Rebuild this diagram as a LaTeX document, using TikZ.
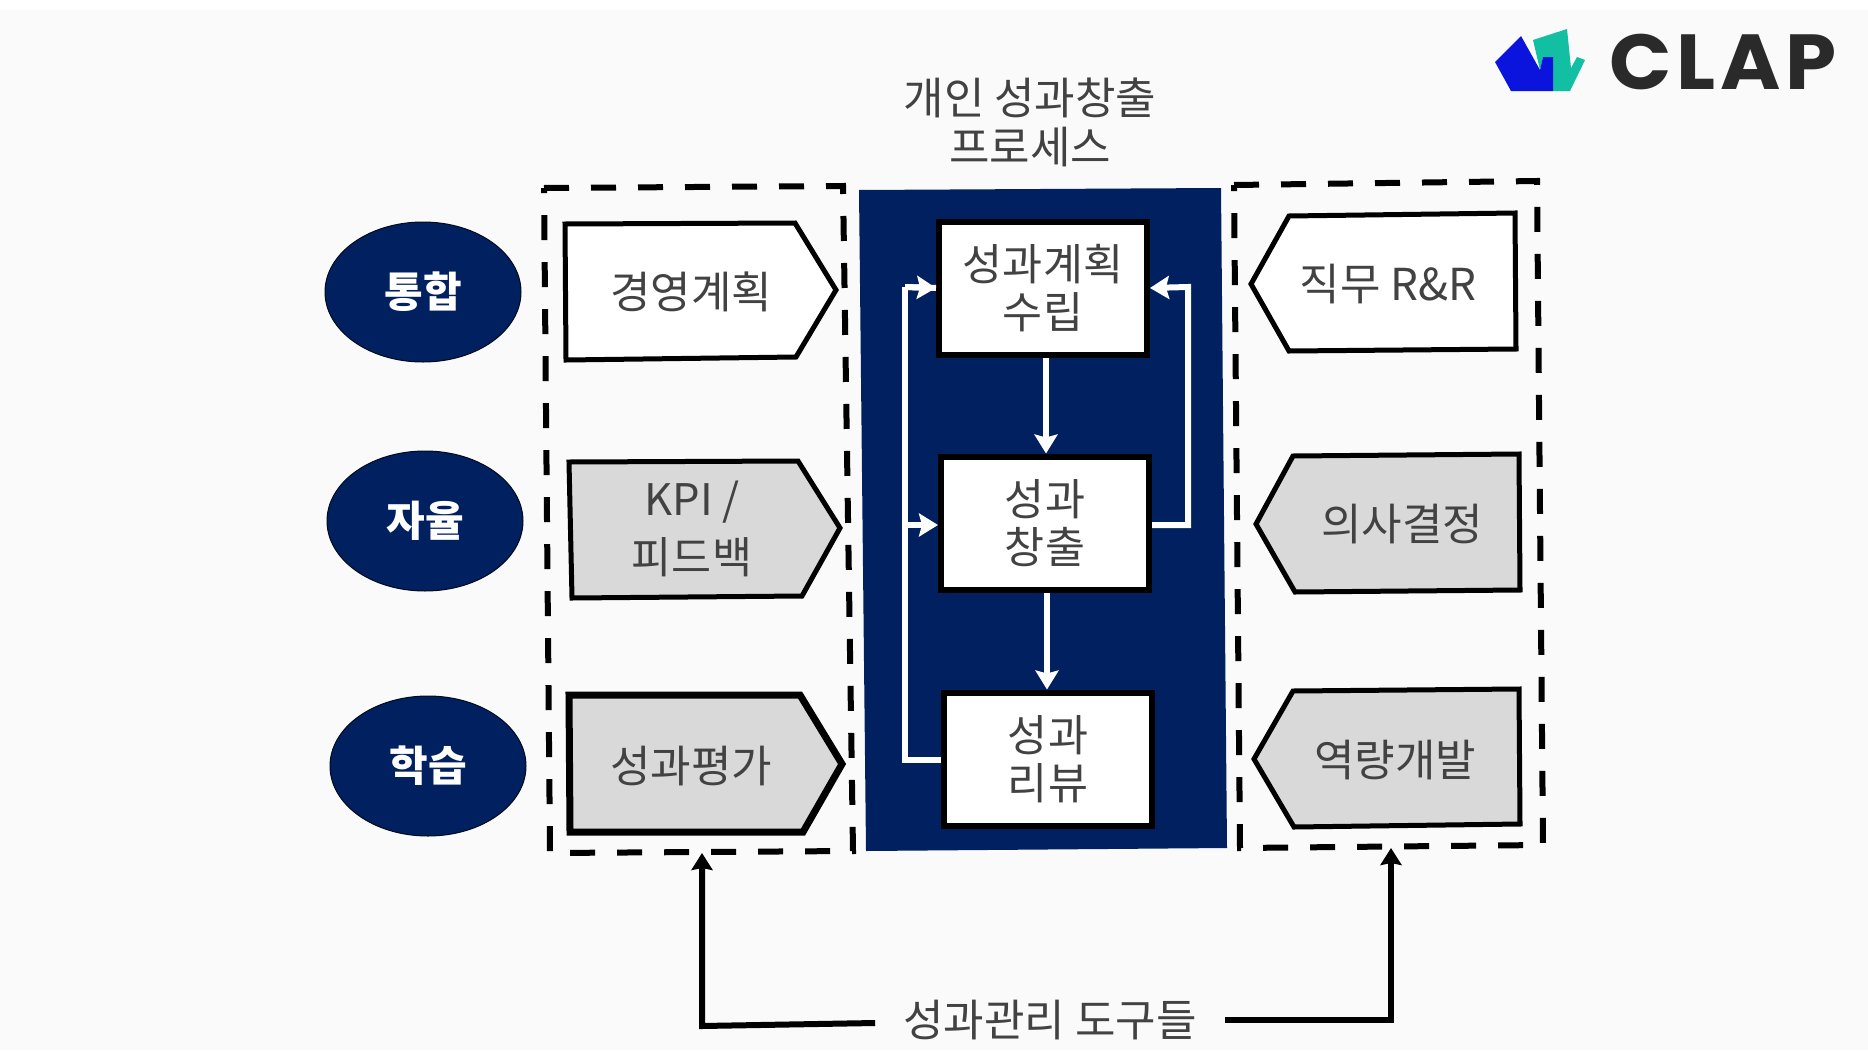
\documentclass[tikz,border=0pt]{standalone}
\usepackage{fontspec}
\setmainfont{Noto Sans CJK KR}
\newfontfamily\logofont[LetterSpace=6]{Poppins}
\usetikzlibrary{arrows.meta,calc,shapes.geometric}
\definecolor{navy}{HTML}{002060}
\definecolor{txt}{HTML}{424242}
\definecolor{greyfill}{HTML}{D9D9D9}
\definecolor{logoblue}{HTML}{0A14DC}
\definecolor{logoteal}{HTML}{12BFA2}
\definecolor{logotext}{HTML}{2A2A2A}
\definecolor{bgpaper}{HTML}{FAFAFA}
\tikzset{
  lbl/.style={text=txt,font=\fontsize{44}{49}\selectfont,align=center,inner sep=0pt},
  topic/.style={ellipse,fill=navy,draw=black!70!navy,line width=1pt,minimum width=196pt,minimum height=140pt,inner sep=0pt,text=white,font=\fontsize{42}{49}\bfseries\selectfont},
  dashframe/.style={draw=black,line width=6pt,dash pattern=on 25pt off 22pt},
  penta/.style={draw=black,line width=5pt},
  stepbox/.style={rectangle,draw=black,line width=6pt,fill=white,minimum width=208pt,minimum height=133pt,inner sep=0pt,text=txt,font=\fontsize{43.5}{48}\selectfont,align=center},
  wline/.style={draw=white,line width=6pt},
  warrow/.style={wline,-{Stealth[length=19pt,width=23pt,inset=3pt]}},
  barrow/.style={draw=black,line width=6pt,-{Stealth[length=17pt,width=21pt,inset=2pt]}},
}
\begin{document}
\begin{tikzpicture}[x=1pt,y=-1pt]
\useasboundingbox (0,0) rectangle (1868,1060);
\fill[bgpaper] (0,10) rectangle (1868,1050);

% logo
\fill[logoteal] (1533,40) -- (1567,29) -- (1571,68) -- (1577,57) -- (1585,60) -- (1570,91) -- (1553,91) -- (1553,57) -- (1543,57) -- (1540,70) -- cycle;
\fill[logoblue] (1495,62) -- (1521,36) -- (1540,70) -- (1543,57) -- (1553,57) -- (1553,91) -- (1511,91) -- cycle;
\node[inner sep=0pt,text=logotext,xscale=1.05,font=\logofont\bfseries\fontsize{78}{78}\selectfont] (logo) at (1723,62) {CLAP};

% title
\node[lbl] (title) at (1030,122) {개인 성과창출\\프로세스};

% dashed frames and centre panel
\draw[dashframe] (544,188) -- (843,186) -- (853,851) -- (550,853) -- cycle;
\draw[dashframe] (1234,185) -- (1537,181) -- (1543,845) -- (1240,848) -- cycle;
\fill[navy] (859,190) -- (1221,188) -- (1227,848) -- (866,851) -- cycle;
\coordinate (leftframe) at (702,853);
\coordinate (rightframe) at (1391,848);

% topics
\node[topic] (t1) at (423,292) {통합};
\node[topic] (t2) at (425,521) {자율};
\node[topic] (t3) at (428,766) {학습};

% left pentagons
\draw[penta,fill=white] (565,224) -- (795,223) -- (836,290) -- (796,357) -- (566,360) -- cycle;
\node[lbl] (l1) at (691,292) {경영계획};
\draw[penta,fill=greyfill] (569,462) -- (798,461) -- (840,528) -- (802,596) -- (572,598) -- cycle;
\node[lbl,font=\fontsize{43.5}{58}\selectfont] (l2) at (692,529) {KPI /\\피드백};
\draw[penta,fill=greyfill,line width=7pt] (569,695) -- (800,695) -- (842,764) -- (803,832) -- (570,832) -- cycle;
\node[lbl] (l3) at (691,766) {성과평가};

% right pentagons
\draw[penta,fill=white] (1251,284) -- (1289,216) -- (1515,213) -- (1516,349) -- (1289,351) -- cycle;
\node[lbl] (r1) at (1388,284) {직무 R\&R};
\draw[penta,fill=greyfill] (1256,524) -- (1293,456) -- (1519,454) -- (1520,590) -- (1295,592) -- cycle;
\node[lbl] (r2) at (1402,524) {의사결정};
\draw[penta,fill=greyfill] (1254,759) -- (1293,691) -- (1519,689) -- (1520,824) -- (1294,827) -- cycle;
\node[lbl] (r3) at (1395,760) {역량개발};

% process steps
\node[stepbox] (s1) at (1043,288) {성과계획\\수립};
\node[stepbox] (s2) at (1045,523) {성과\\창출};
\node[stepbox] (s3) at (1048,759) {성과\\리뷰};

% process connectors
\coordinate (lefttop) at (905,287);
\coordinate (leftmid) at (905,525);
\coordinate (leftbot) at (905,760);
\coordinate (righttop) at (1188,287);
\coordinate (rightmid) at (1188,525);
\draw[wline] (s3.west |- leftbot) -- (leftbot) -- (lefttop);
\draw[wline] (lefttop) -- (s1.west);
\draw[warrow] (lefttop) -- (s1.west);
\draw[warrow] (leftmid) -- (s2.west |- leftmid);
\draw[warrow] (s2.east |- rightmid) -- (rightmid) -- (righttop) -- (s1.east);
\draw[warrow] (s1.south) ++(3,0) -- ($(s2.north)+(1,0)$);
\draw[warrow] (s2.south) ++(2,0) -- ($(s3.north)+(-1,0)$);

% bottom label
\node[lbl,inner xsep=28pt,inner ysep=4pt] (tools) at (1050,1020) {성과관리 도구들};
\coordinate (bl) at (702,1026);
\draw[barrow] ($(tools.west)+(0,3)$) -- (bl) -- (leftframe);
\draw[barrow] (tools.east) -- (rightframe |- tools.east) -- (rightframe);
\end{tikzpicture}
\end{document}
